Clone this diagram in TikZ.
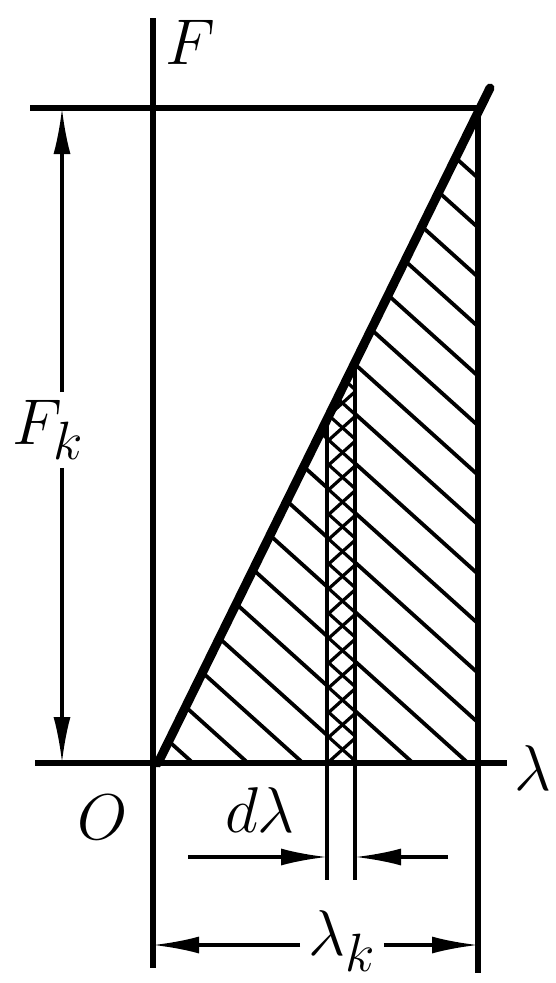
\documentclass[tikz,border=0pt]{standalone}
\usepackage{graphicx}
\usetikzlibrary{arrows.meta}
\newcommand{\biglab}[1]{\scalebox{2.6}{\Huge$#1$}}

\begin{document}
\begin{tikzpicture}[x=1pt, y=-1pt,
  axis/.style={line width=6pt},
  hatch/.style={line width=3.8pt},
  dim/.style={line width=3.2pt},
  dimarr/.style={dim, -{Latex[length=46pt, width=17pt]}},
  lbl/.style={inner sep=0pt}]
  \useasboundingbox (0,0) rectangle (556,983);

  % frame points
  \coordinate (O) at (158,763);
  \coordinate (Ftop) at (153,18);
  \coordinate (Fbot) at (153,968);
  \coordinate (Tl) at (30,108);
  \coordinate (Tr) at (480,108);
  \coordinate (Bl) at (35,763);
  \coordinate (Br) at (507,763);
  \coordinate (Rtop) at (478,108);
  \coordinate (Rbot) at (478,973);
  \coordinate (Tip) at (490,88);

  % hatching of the triangle
  \begin{scope}
    \clip (158,763) -- (480,108) -- (478,763) -- cycle;
    \foreach \x in {138,193,...,1250}
      \draw[hatch] (\x,763) -- ++(-1200,-1080);
    % strip d lambda
    \clip (327,300) rectangle (355,763);
    \fill[white] (327,300) rectangle (355,763);
    \foreach \x in {110,137.5,...,1250}
      \draw[hatch, line width=3.2pt] (\x,763) -- ++(-1200,-1080);
    \foreach \x in {-140,-112.5,...,360}
      \draw[hatch, line width=3.2pt] (\x,763) -- ++(600,-540);
  \end{scope}

  % strip edges
  \draw[axis, line width=4.8pt] (327,419) -- (327,880);
  \draw[axis, line width=4.8pt] (355,362) -- (355,880);

  % axes and frame
  \draw[axis] (Ftop) -- (Fbot);
  \draw[axis] (Tl) -- (Tr);
  \draw[axis] (Bl) -- (Br);
  \draw[axis] (Rtop) -- (Rbot);
  \draw[axis, line width=9pt, line cap=round] (O) -- (Tip);

  % labels
  \node[lbl] (lF) at (190,42) {\biglab{F}};
  \node[lbl] (llam) at (533,768) {\biglab{\lambda}};
  \node[lbl] (lO) at (103,817) {\biglab{O}};
  \node[lbl] (ldl) at (260,810) {\biglab{d\lambda}};
  \node[lbl, inner ysep=8pt] (lFk) at (48,430) {\biglab{F_k}};
  \node[lbl, inner xsep=8pt] (llk) at (342,941) {\biglab{\lambda_k}};

  % dimension F_k
  \coordinate (FkTop) at (62,108);
  \coordinate (FkBot) at (62,763);
  \draw[dimarr] (FkTop |- lFk.north) -- (FkTop);
  \draw[dimarr] (FkBot |- lFk.south) -- (FkBot);

  % dimension lambda_k
  \coordinate (lkL) at (153,945);
  \coordinate (lkR) at (478,945);
  \draw[dimarr] (lkL -| llk.west) -- (lkL);
  \draw[dimarr] (lkR -| llk.east) -- (lkR);

  % dimension d lambda
  \coordinate (dlA) at (188,857);
  \coordinate (dlB) at (327,857);
  \coordinate (dlC) at (448,857);
  \coordinate (dlD) at (355,857);
  \draw[dimarr] (dlA) -- (dlB);
  \draw[dimarr] (dlC) -- (dlD);
\end{tikzpicture}
\end{document}
